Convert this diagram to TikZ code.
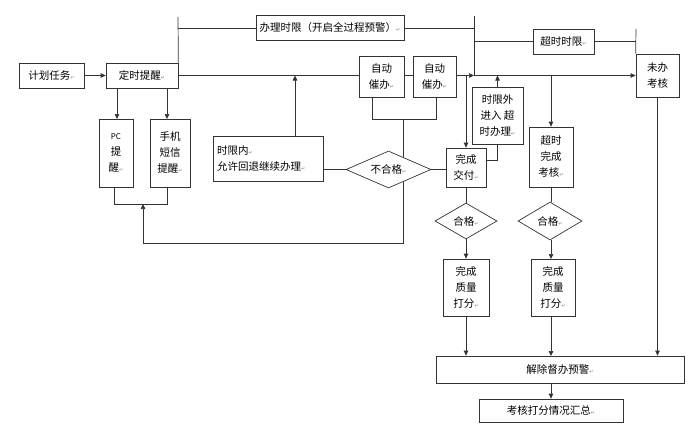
\documentclass[tikz,border=0pt]{standalone}
\usepackage{fontspec}
\setmainfont{Noto Sans CJK SC}
\newfontfamily\djv{DejaVu Sans}
\usetikzlibrary{arrows.meta,shapes.geometric,backgrounds}
\newcommand{\rmk}{{\djv\fontsize{5}{5}\selectfont\textcolor{gray}{↵}}}
\begin{document}
\begin{tikzpicture}[x=1pt,y=-1pt,
  every node/.style={font=\fontsize{10.5}{16}\selectfont},
  bx/.style={draw=black!80,line width=0.7pt,fill=white,inner sep=0pt,align=center},
  dm/.style={draw=black!80,line width=0.7pt,fill=white,diamond,inner sep=0pt},
  ln/.style={draw=black!80,line width=0.7pt},
  ar/.style={ln,-{Triangle[length=5pt,width=4.5pt]}}]
\useasboundingbox (0,0) rectangle (690,428);
% nodes
\node[bx,minimum width=65,minimum height=25] (plan) at (51.5,75.5) {计划任务\rmk};
\node[bx,minimum width=72,minimum height=25] (remind) at (142,75.5) {定时提醒\rmk};
\node[bx,minimum width=148,minimum height=25] (limit) at (330,28) {办理时限（开启全过程预警）\rmk};
\node[bx,minimum width=45,minimum height=41] (urgeA) at (381.5,76.5) {自动\\催办\rmk};
\node[bx,minimum width=43,minimum height=41] (urgeB) at (434.5,76.5) {自动\\催办\rmk};
\node[bx,minimum width=61,minimum height=25] (over) at (563.5,41.5) {超时时限\rmk};
\node[bx,minimum width=43,minimum height=43] (undone) at (657.5,75.5) {未办\\考核};
\node[bx,minimum width=34,minimum height=68] (pc) at (116,153) {{\fontsize{8}{12}\selectfont PC}\\提\\醒\rmk};
\node[bx,minimum width=40,minimum height=68] (sms) at (170,153) {手机\\短信\\提醒\rmk};
\node[bx,minimum width=110,minimum height=45,align=left,text width=102] (within) at (268,158.5) {时限内\rmk\\允许回退继续办理\rmk};
\node[bx,minimum width=40,minimum height=39] (deliver) at (466,167.5) {完成\\交付\rmk};
\node[bx,minimum width=51,minimum height=57] (outside) at (497.5,115.5) {时限外\\进入 超\\时办理\rmk};
\node[bx,minimum width=44,minimum height=60] (otdone) at (551,157) {超时\\完成\\考核\rmk};
\node[bx,minimum width=46,minimum height=57] (scoreA) at (466,287.5) {完成\\质量\\打分\rmk};
\node[bx,minimum width=44,minimum height=57] (scoreB) at (553,287.5) {完成\\质量\\打分\rmk};
\node[bx,minimum width=248,minimum height=27] (release) at (560,369.5) {解除督办预警\rmk};
\node[bx,minimum width=144,minimum height=23] (summary) at (551,410.5) {考核打分情况汇总\rmk};
\node[dm,aspect=2.3,minimum width=85,minimum height=37] (fail) at (388.5,169.5) {不合格\rmk};
\node[dm,aspect=1.72,minimum width=62,minimum height=36] (okA) at (466,221) {合格\rmk};
\node[dm,aspect=1.68,minimum width=64,minimum height=38] (okB) at (550,221) {合格\rmk};
% coordinates
\coordinate (topL) at (178,17);
\coordinate (vR) at (474,16);
\coordinate (vR2) at (636,29);
\coordinate (jA) at (403,119);
\coordinate (jB) at (403,243);
\coordinate (jC) at (143,243);
\coordinate (jD) at (143,204);
\coordinate (mainR) at (474,75.5);
\coordinate (dE) at ([yshift=7pt]deliver.east);
% top structure
\draw[ln] (remind.north east) -- (topL);
\draw[ln] (178,28) -- (limit.west);
\draw[ln] (limit.east) -- (474,28);
\draw[ln] (vR) -- (mainR);
\draw[ln] (474,41.5) -- (over.west);
\draw[ln] (over.east) -- (636,41.5);
\draw[ln] (vR2) -- (undone.north west);
% main line
\draw[ln] (remind.east) -- (urgeA.west |- remind.east);
\draw[ln] (urgeA.east |- remind.east) -- (urgeB.west |- remind.east);
\draw[ar] (urgeB.east |- remind.east) -- (mainR);
\draw[ar] (mainR) -- (undone.west);
\draw[ar] (plan.east) -- (remind.west);
\draw[ar] (466,75.5) -- (deliver.north);
\draw[ar] (551,75.5) -- (otdone.north);
\draw[ar] (outside.north) -- (outside.north |- mainR);
\draw[ln] (dE) -- (outside.south |- dE) -- (outside.south);
\draw[ar] ([xshift=27pt]within.north) -- ([xshift=27pt]within.north |- remind.east);
% reminders
\draw[ar] (117,88) -- (117,119);
\draw[ar] (167,88) -- (167,119);
\draw[ln] (114,187) -- (114,204) -- (167,204) -- (167,187);
% urge loop
\draw[ln] (372,97) -- (372,119) -- (436,119) -- (436,97);
\begin{pgfonlayer}{background}
\draw[ln] (jA) -- (jB) -- (jC);
\end{pgfonlayer}
\draw[ar] (jC) -- (jD);
\draw[ln] (fail.west) -- (fail.west -| within.east);
\draw[ln] (fail.east) -- (fail.east -| deliver.west);
% lower right
\draw[ln] (deliver.south) -- (okA.north);
\draw[ar] (okA.south) -- (scoreA.north);
\draw[ar] (scoreA.south) -- (scoreA.south |- release.north);
\draw[ln] (otdone.south) -- (551,202);
\draw[ar] (551,240) -- (551,259);
\draw[ar] (551,316) -- (551,356);
\draw[ar] (undone.south) -- (undone.south |- release.north);
\draw[ar] (release.south -| summary.north) -- (summary.north);
\end{tikzpicture}
\end{document}
